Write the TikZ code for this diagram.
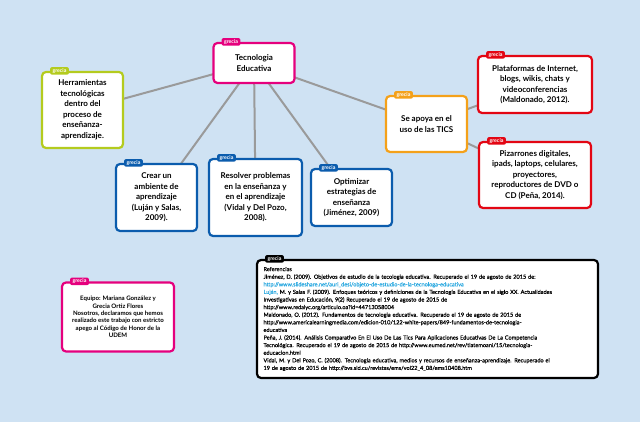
\documentclass[tikz,border=0pt]{standalone}
\usepackage{fontspec}
\setmainfont{Lato}
\definecolor{bgc}{HTML}{CFE2F3}
\definecolor{cmag}{HTML}{E5007D}
\definecolor{clime}{HTML}{B4CB1E}
\definecolor{corange}{HTML}{F4A11A}
\definecolor{cred}{HTML}{E30613}
\definecolor{cblue}{HTML}{0B5CAD}
\definecolor{cgray}{HTML}{9A9A9A}
\definecolor{clink}{HTML}{29A8E0}
\pgfdeclarelayer{bglayer}
\pgfsetlayers{bglayer,main}
\newcommand\gtag[2]{\node[tagbox=#2] (#1tag) at ([xshift=9pt]#1.north west) {grecia};}
\begin{document}
\begin{tikzpicture}[x=1pt,y=-1pt,
  box/.style={draw=#1, fill=white, line width=2.2pt, rounded corners=4pt, align=center, inner sep=0pt,
    font=\fontsize{8}{10.5}\selectfont\bfseries},
  tagbox/.style={fill=#1, text=white, rounded corners=2pt, font=\fontsize{5.2}{5.5}\selectfont\bfseries,
    inner xsep=2.5pt, inner ysep=1.4pt, anchor=west},
  conn/.style={draw=cgray, line width=2pt},
  refbox/.style={draw=black, fill=white, line width=2.2pt, rounded corners=4pt, align=left,
    text width=328pt, inner xsep=6.5pt, inner ysep=0pt, minimum height=118pt,
    font=\fontsize{5.6}{7.6}\selectfont\addfontfeatures{FakeBold=0.35}},
  eqbox/.style={draw=cmag, fill=white, line width=2.2pt, rounded corners=4pt, align=center, inner sep=0pt,
    minimum width=112pt, minimum height=69pt, font=\fontsize{6.1}{7.4}\selectfont\bfseries}
]
\begin{pgfonlayer}{bglayer}
\useasboundingbox[fill=bgc] (0,0) rectangle (640,422);
\end{pgfonlayer}

\node[box=cmag, minimum width=81pt, minimum height=40pt] (te) at (254,63) {Tecnologia\\Educativa};
\node[box=clime, minimum width=81pt, minimum height=76pt] (herr) at (82.5,110) {Herramientas\\tecnológicas\\dentro del\\proceso de\\enseñanza-\\aprendizaje.};
\node[box=corange, minimum width=81pt, minimum height=56pt] (apoya) at (426.5,124) {Se apoya en el\\uso de las TICS};
\node[box=cred, minimum width=114pt, minimum height=57pt] (plat) at (535,84.5) {Plataformas de Internet,\\blogs, wikis, chats y\\videoconferencias\\(Maldonado, 2012).};
\node[box=cred, minimum width=112pt, minimum height=66pt] (piz) at (535,175) {Pizarrones digitales,\\ipads, laptops, celulares,\\proyectores,\\reproductores de DVD o\\CD (Peña, 2014).};
\node[box=cblue, minimum width=81pt, minimum height=67pt] (crear) at (156.5,197.5) {Crear un\\ambiente de\\aprendizaje\\(Luján y Salas,\\2009).};
\node[box=cblue, minimum width=93pt, minimum height=77pt] (resol) at (255.5,197.5) {Resolver problemas\\en la enseñanza y\\en el aprendizaje\\(Vidal y Del Pozo,\\2008).};
\node[box=cblue, minimum width=81pt, minimum height=57pt] (optim) at (351.5,197.5) {Optimizar\\estrategias de\\enseñanza\\(Jiménez, 2009)};

\node[refbox] (refs) at (427.5,319) {Referencias\\
Jiménez, D. (2009). Objetivos de estudio de la tecologia educativa. Recuperado el 19 de agosto de 2015 de:\\
{\color{clink}http://www.slideshare.net/auri\_desi/objeto-de-estudio-de-la-tecnologa-educativa}\\
{\color{clink}Luján,} M. y Salas F. (2009). Enfoques teóricos y definiciones de la Tecnología Educativa en el siglo XX. Actualidades\\
Investigativas en Educación, 9(2) Recuperado el 19 de agosto de 2015 de\\
http://www.redalyc.org/articulo.oa?id=44713058004\\
Maldonado, O. (2012). Fundamentos de tecnologia educativa. Recuperado el 19 de agosto de 2015 de\\
http://www.americalearningmedia.com/edicion-010/122-white-papers/849-fundamentos-de-tecnologia-\\
educativa\\
Peña, J. (2014). Análisis Comparativo En El Uso De Las Tics Para Aplicaciones Educativas De La Competencia\\
Tecnológica. Recuperado el 19 de agosto de 2015 de http://www.eumed.net/rev/tlatemoani/15/tecnologia-\\
educacion.html\\
Vidal, M. y Del Pozo, C. (2008). Tecnología educativa, medios y recursos de enseñanza-aprendizaje. Recuperado el\\
19 de agosto de 2015 de http://bvs.sld.cu/revistas/ems/vol22\_4\_08/ems10408.htm};

\node[eqbox] (equipo) at (118,317) {Equipo: Mariana González y\\Grecia Ortiz Flores\\Nosotros, declaramos que hemos\\realizado este trabajo con estricto\\apego al Código de Honor de la\\UDEM};

\gtag{te}{cmag}
\gtag{herr}{clime}
\gtag{apoya}{corange}
\gtag{plat}{cred}
\gtag{piz}{cred}
\gtag{crear}{cblue}
\gtag{resol}{cblue}
\gtag{optim}{cblue}
\gtag{refs}{black}
\gtag{equipo}{cmag}

\begin{pgfonlayer}{bglayer}
\draw[conn] (te.center) -- (herr.center);
\draw[conn] (te.center) -- (crear.center);
\draw[conn] (te.center) -- (resol.center);
\draw[conn] (te.center) -- (optim.center);
\draw[conn] (te.center) -- (apoya.center);
\draw[conn] (apoya.center) -- (plat.center);
\draw[conn] (apoya.center) -- (piz.center);
\end{pgfonlayer}
\end{tikzpicture}
\end{document}
